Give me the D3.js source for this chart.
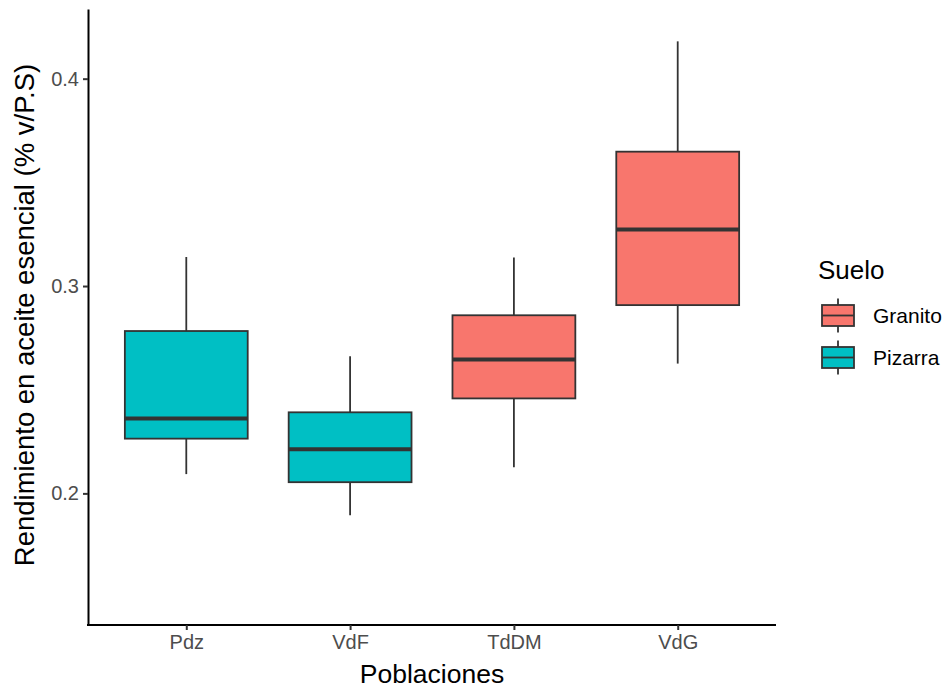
<!DOCTYPE html>
<html>
<head>
<meta charset="utf-8">
<script src="https://cdn.jsdelivr.net/npm/d3@7"></script>
<style>
  body { margin: 0; background: #fff; }
  text { font-family: Arial, "Liberation Sans", sans-serif; }
</style>
</head>
<body>
<svg id="id_svg"></svg>
<script>
width = 947
height = 693
categories = ["Pdz", "VdF", "TdDM", "VdG"]
suelo = ["Pizarra", "Pizarra", "Granito", "Granito"]
lowerWhisker = [0.2093, 0.1895, 0.2126, 0.2626]
q1 = [0.2264, 0.2054, 0.2458, 0.2908]
median = [0.2361, 0.2213, 0.2646, 0.3273]
q3 = [0.2783, 0.2391, 0.2859, 0.3648]
upperWhisker = [0.3140, 0.2661, 0.3138, 0.4180]
yTicks = [0.2, 0.3, 0.4]
legendLevels = ["Granito", "Pizarra"]
legendColors = ["#F8766D", "#00BFC4"]

chart = function() {
    const margin = { left: 88, right: 171, top: 9, bottom: 68 };
    const svg = d3.select("#id_svg").attr("width", width).attr("height", height);

    const x = d3.scalePoint()
        .domain(categories)
        .range([margin.left, width - margin.right])
        .padding(0.6);
    const step = x.step();
    const boxW = step * 0.75;

    const y = d3.scaleLinear()
        .domain([0.13653, 0.4336])
        .range([height - margin.bottom, margin.top]);

    const color = d3.scaleOrdinal().domain(legendLevels).range(legendColors);

    const data = categories.map((c, i) => ({
        c, s: suelo[i], lo: lowerWhisker[i], q1: q1[i], med: median[i], q3: q3[i], hi: upperWhisker[i]
    }));

    const g = svg.append("g");
    const box = g.selectAll("g.box").data(data).join("g").attr("class", "box");

    // whiskers
    box.append("line")
        .attr("x1", d => x(d.c)).attr("x2", d => x(d.c))
        .attr("y1", d => y(d.hi)).attr("y2", d => y(d.q3))
        .attr("stroke", "#333").attr("stroke-width", 1.8);
    box.append("line")
        .attr("x1", d => x(d.c)).attr("x2", d => x(d.c))
        .attr("y1", d => y(d.q1)).attr("y2", d => y(d.lo))
        .attr("stroke", "#333").attr("stroke-width", 1.8);
    box.append("rect")
        .attr("x", d => x(d.c) - boxW / 2).attr("width", boxW)
        .attr("y", d => y(d.q3)).attr("height", d => y(d.q1) - y(d.q3))
        .attr("fill", d => color(d.s))
        .attr("stroke", "#333").attr("stroke-width", 1.8);
    box.append("line")
        .attr("x1", d => x(d.c) - boxW / 2).attr("x2", d => x(d.c) + boxW / 2)
        .attr("y1", d => y(d.med)).attr("y2", d => y(d.med))
        .attr("stroke", "#333").attr("stroke-width", 4);

    // axes
    const xAxis = svg.append("g")
        .attr("transform", `translate(0,${height - margin.bottom})`)
        .call(d3.axisBottom(x).tickSize(5).tickPadding(4).tickSizeOuter(0));
    const yAxis = svg.append("g")
        .attr("transform", `translate(${margin.left},0)`)
        .call(d3.axisLeft(y).tickValues(yTicks).tickFormat(d3.format(".1f"))
            .tickSize(5).tickPadding(4).tickSizeOuter(0));
    for (const a of [xAxis, yAxis]) {
        a.select(".domain").attr("stroke", "#000").attr("stroke-width", 2);
        a.selectAll(".tick line").attr("stroke", "#333").attr("stroke-width", 2);
        a.selectAll(".tick text").attr("fill", "#4d4d4d").style("font-size", "20px");
    }
    xAxis.selectAll(".tick text").attr("dy", "0.75em");
    // extend x domain line to the y axis
    xAxis.select(".domain").attr("d", `M${margin.left - 1},0H${width - margin.right}`);

    svg.append("text")
        .attr("x", (margin.left + width - margin.right) / 2).attr("y", 683)
        .attr("text-anchor", "middle").style("font-size", "26.5px").attr("fill", "#000")
        .text("Poblaciones");
    svg.append("text")
        .attr("transform", `translate(34,${(margin.top + height - margin.bottom) / 2 - 2}) rotate(-90)`)
        .attr("text-anchor", "middle").style("font-size", "27.5px").attr("fill", "#000")
        .text("Rendimiento en aceite esencial (% v/P.S)");

    // legend
    const lg = svg.append("g").attr("transform", "translate(818,0)");
    lg.append("text").attr("x", 0).attr("y", 279).style("font-size", "26px").text("Suelo");
    const item = lg.selectAll("g.item").data(legendLevels).join("g")
        .attr("class", "item")
        .attr("transform", (d, i) => `translate(0,${315.5 + i * 42})`);
    item.append("line").attr("x1", 20).attr("x2", 20).attr("y1", -17).attr("y2", 17)
        .attr("stroke", "#333").attr("stroke-width", 1.8);
    item.append("rect").attr("x", 4).attr("y", -10.5).attr("width", 32).attr("height", 21)
        .attr("fill", d => color(d)).attr("stroke", "#333").attr("stroke-width", 1.8);
    item.append("line").attr("x1", 4).attr("x2", 36).attr("y1", 0).attr("y2", 0)
        .attr("stroke", "#333").attr("stroke-width", 1.8);
    item.append("text").attr("x", 55).attr("y", 7.5).style("font-size", "21px").attr("fill", "#000")
        .text(d => d);

    return svg.node();
}
chart()
</script>
</body>
</html>
